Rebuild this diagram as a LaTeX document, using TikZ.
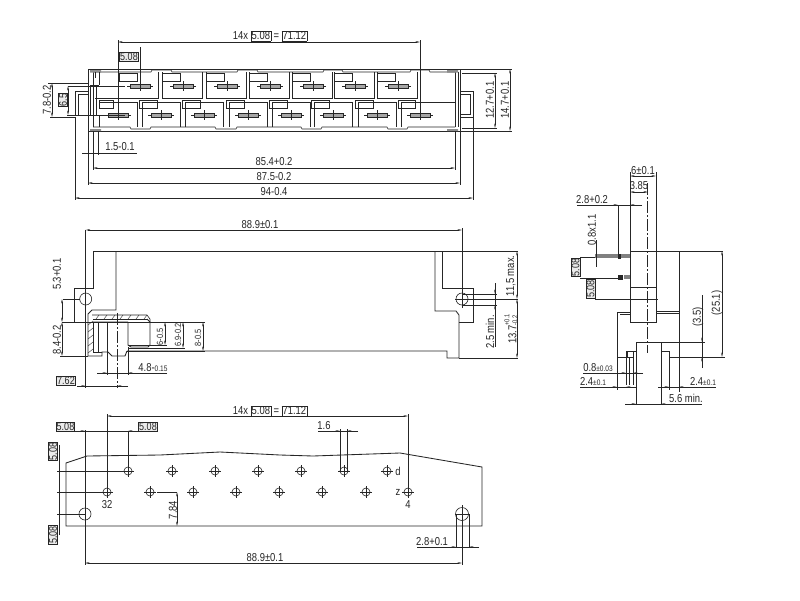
\documentclass[tikz,border=0pt]{standalone}
\usepackage{graphicx}
\usepackage{fontspec}
\setmainfont{Liberation Sans}
\usetikzlibrary{arrows.meta}
\definecolor{ink}{HTML}{262626}
\setlength{\fboxsep}{0.6pt}\setlength{\fboxrule}{0.5pt}
\newcommand\bx[1]{\fbox{#1}}
\newcommand\lab[3][]{\node[lbl,#1] at (#2) {\scalebox{.82}[1]{#3}};}
\newcommand\sml[3][]{\node[lbs,#1] at (#2) {\scalebox{.82}[1]{#3}};}
\newcommand\boxl[3][]{\node[boxed,#1] at (#2) {\scalebox{.82}[1]{#3}};}
\tikzset{
  lbl/.style={font=\fontsize{11.5}{12}\selectfont,text=ink,inner sep=0pt},
  lbs/.style={font=\fontsize{9}{10}\selectfont,text=ink,inner sep=0pt},
  boxed/.style={font=\fontsize{11}{11}\selectfont,text=ink,draw=ink,line width=.6pt,fill=black!8,inner sep=.5pt},
  body/.style={draw=ink,line width=.85pt},
  thin line/.style={draw=ink,line width=.6pt},
  dimline/.style={draw=ink,line width=.55pt,{Stealth[length=4.5pt,width=1.8pt]}-{Stealth[length=4.5pt,width=1.8pt]}},
  endarrow/.style={draw=ink,line width=.55pt,-{Stealth[length=4.5pt,width=1.8pt]}},
  center line/.style={draw=ink,line width=.55pt,dash pattern=on 12pt off 2pt on 2pt off 2pt},
}
\newcommand\contact[2]{%
  \filldraw[draw=ink,fill=black!35,line width=.35pt] (#1-10,#2-2) rectangle (#1+10,#2+2);
  \draw[draw=ink,line width=.45pt] (#1-13,#2)--(#1-10,#2) (#1+10,#2)--(#1+13,#2) (#1,#2-5)--(#1,#2+5);}
\newcommand\pinhole[2]{%
  \draw[thin line] (#1,#2) circle (4);
  \draw[thin line] (#1-6,#2)--(#1+6,#2) (#1,#2-6)--(#1,#2+6);}
\begin{document}
\begin{tikzpicture}[x=1pt,y=-1pt]
\useasboundingbox (0,0) rectangle (800,600);
\fill[white] (0,0) rectangle (800,600);

%% ---------- TOP VIEW ----------
\draw[body] (88,69) rectangle (460,131);
\draw[thin line] (88,69) -- (88,131);
\draw[thin line] (93,72)--(93,127) (455,72)--(455,127) (458,72)--(458,127);
\draw[thin line] (93,72)--(151,72)--(152,70)--(171,70)--(172,72)--(237,72)--(238,70)--(257,70)--(258,72)
   --(323,72)--(324,70)--(342,70)--(343,72)--(410,72)--(411,70)--(429,70)--(430,72)--(455,72);
\draw[thin line] (93,127)--(130,127)--(131,129)--(150,129)--(151,127)--(215,127)--(216,129)--(236,129)--(237,127)
   --(301,127)--(302,129)--(321,129)--(322,127)--(387,127)--(388,129)--(407,129)--(408,127)--(455,127);
\fill[black!45] (90,70) rectangle (101,72.5) (90,129) rectangle (101,131) (447,70) rectangle (458,72.5) (447,129) rectangle (458,131);
% ears
\draw[body] (88,91)--(75,91)--(75,115)--(88,115);
\draw[thin line] (88,94)--(78,94)--(78,115);
\draw[body] (460,91)--(473,91)--(473,117)--(460,117);
\draw[thin line] (460,94)--(470,94)--(470,114)--(460,114);
\draw[thin line] (90,85) rectangle (96,115);
\draw[thin line] (96,85)--(99,85) (96,115)--(99,115) (99,72)--(99,85) (99,115)--(99,127);
% upper cells
\draw[body] (95,72)--(95,78) (95,98)--(158,98)--(158,72);
\draw[thin line] (119,73) rectangle (137,81);
\foreach \c in {183,227,270,313,355,398}{
  \draw[body] (\c-21,72)--(\c-21,98)--(\c+19,98)--(\c+19,72);
  \draw[thin line] (\c-21,73) rectangle (\c-3,81);
}
\foreach \c in {140,183,227,270,313,355,398}{\contact{\c}{86}}
% lower cells
\draw[body] (99,102)--(137,102)--(137,127);
\draw[thin line] (99,100) rectangle (113,108);
\foreach \c in {161,204,248,291,333,377}{
  \draw[body] (\c-19,127)--(\c-19,102)--(\c+19,102)--(\c+19,127);
  \draw[thin line] (\c-22,100) rectangle (\c-4,108);
}
\draw[body] (401,127)--(401,102)--(456,102);
\draw[thin line] (398,100) rectangle (415,108);
\foreach \c in {118,161,204,248,291,333,377,420}{\contact{\c}{115}}
% dims
\draw[thin line] (118,40)--(118,115) (420,40)--(420,115);
\draw[dimline] (118,42)--(420,42);
\lab{270,36}{14x \bx{5.08} = \bx{71.12}}
\draw[thin line] (118,62)--(118,47) (140,47)--(140,86);
\boxl{129,57}{5.08}
\draw[thin line] (48,83)--(88,83) (68,86)--(125,86) (67,115)--(125,115) (50,117)--(75,117);
\draw[dimline] (52,83)--(52,117);
\draw[dimline] (68,86)--(68,115);
\lab[rotate=90]{47,100}{7.8-0.2}
\boxl[rotate=90]{63,100}{6.5}
\draw[thin line] (460,69)--(512,69) (460,131)--(512,131) (462,73)--(497,73) (462,128)--(497,128);
\draw[dimline] (495,73)--(495,128);
\draw[dimline] (510,69)--(510,131);
\lab[rotate=90]{490,100}{12.7+0.1}
\lab[rotate=90]{505,100}{14.7+0.1}
\draw[thin line] (88,131)--(88,185) (93,131)--(93,170) (98,131)--(98,155) (455,131)--(455,170) (460,131)--(460,185);
\draw[thin line] (75,117)--(75,200) (473,117)--(473,200);
\draw[thin line] (82,153)--(137,153);
\lab{120,147}{1.5-0.1}
\draw[dimline] (93,168)--(455,168);
\draw[dimline] (88,183)--(460,183);
\draw[dimline] (75,198)--(473,198);
\lab{274,162}{85.4+0.2}
\lab{274,177}{87.5-0.2}
\lab{274,192}{94-0.4}

%% ---------- FRONT VIEW ----------
\draw[body] (74,322)--(74,288)--(93,288)--(93,251)--(442,251)--(442,288)--(473,288)--(473,322)--(459,322);
\draw[body] (116,251)--(116,310)--(92,310)--(88,314)--(88,356);
\draw[body] (435,251)--(435,311)--(456,311)--(459,315)--(459,358)--(447,358)--(447,351)--(127,351);
\draw[thin line] (85.7,299) circle (6) (462,299) circle (6);
\draw[thin line] (85.7,230)--(85.7,388) (462,228)--(462,308);
\draw[thin line] (92,315)--(147,315)--(150,319)--(150,322);
\draw[body] (93,322)--(128,322) (128,322)--(128,345)--(131,347)--(148,347)--(150,345)--(150,322)--(147,319);
\draw[thin line] (93,319)--(147,319);
\foreach \a in {96,104,112,120,128,136,144}{\draw[draw=ink,line width=.4pt] (\a,319)--(\a+3,315);}
\foreach \a in {325,332,339,346,353}{\draw[draw=ink,line width=.4pt] (88,\a)--(93,\a-4);}
\draw[thin line] (93,322)--(93,352) (98,322)--(98,352) (93,352)--(102,352);
\draw[body] (88,356)--(102,356)--(102,352)--(108,352)--(112,356)--(125,356)--(127,351);
\draw[body] (128,345)--(150,345);
\draw[thin line] (107,322)--(107,375) (128,347)--(128,375);
\draw[center line] (117,313)--(117,388);
\draw[thin line] (62,322)--(205,322) (150,345)--(167,345) (128,348)--(185,348) (127,351)--(205,351) (60,356)--(88,356) (63,299)--(80,299);
\draw[thin line] (97,373)--(167,373);
\draw[endarrow] (97,373)--(107,373);
\draw[endarrow] (167,373)--(128,373);
\lab{153,368}{4.8-\fontsize{8}{8}\selectfont 0.15}
\draw[dimline] (165,322)--(165,345);
\draw[dimline] (183,322)--(183,348);
\draw[dimline] (203,322)--(203,351);
\sml[rotate=90]{160,337}{6-0.5}
\sml[rotate=90]{178,335}{6.9-0.2}
\sml[rotate=90]{198,338}{8-0.5}
\draw[dimline] (85.7,230)--(462,230);
\lab{260,225}{88.9±0.1}
\draw[dimline] (62,299)--(62,322);
\draw[dimline] (62,322)--(62,356);
\lab[rotate=90]{57,274}{5.3+0.1}
\lab[rotate=90]{57,340}{8.4-0.2}
\boxl{66,381}{7.62}
\draw[thin line] (77,386)--(128,386);
\draw[endarrow] (77,386)--(85.7,386);
\draw[endarrow] (128,386)--(117,386);
% right dims
\draw[thin line] (442,251)--(518,251) (459,358)--(518,358) (455,299)--(518,299) (462,294)--(497,294) (462,305)--(497,305);
\draw[dimline] (517,251)--(517,299);
\draw[dimline] (517,299)--(517,358);
\draw[thin line] (495,283)--(495,347);
\draw[endarrow] (495,283)--(495,294);
\draw[endarrow] (495,316)--(495,305);
\lab[rotate=90]{511,276}{11,5 max.}
\node[lbl,rotate=90] at (511,329) {\scalebox{.82}[1]{13.7\raisebox{-1pt}{\fontsize{7}{7}\selectfont\shortstack[l]{+0.1\\-0.2}}}};
\lab[rotate=90]{490,332}{2.5 min.}

%% ---------- SIDE VIEW ----------
\draw[body] (630,251) rectangle (656,322);
\draw[body] (656,251)--(679,251)--(679,357)--(669,357)--(669,351)--(661,351);
\draw[body] (630,312)--(617,312)--(617,357)--(626,357)--(626,351)--(636,351);
\draw[body] (656,311)--(679,311) (656,313)--(679,313) (620,314)--(630,314);
\draw[body] (636,405)--(636,342)--(661,342)--(661,405);
\draw[thin line] (630,287)--(656,287) (595,299)--(658,299);
\draw[center line] (647,183)--(647,353);
% pins
\fill[black!50] (595,254) rectangle (630,258);
\fill[ink] (618,253.5) rectangle (621,258.5);
\fill[black!50] (624,275) rectangle (630,279);
\fill[ink] (618,274.5) rectangle (623,279.5);
\draw[thin line] (580,257)--(595,257) (580,278)--(618,278) (595,278)--(595,299);
\draw[thin line] (618,205)--(618,256);
\draw[thin line] (630,172)--(630,251) (656,172)--(656,251);
\draw[thin line] (596,240)--(596,267);
\draw[thin line] (577,205)--(642,205);
\draw[endarrow] (604,205)--(618,205);
\draw[endarrow] (642,205)--(630,205);
\draw[dimline] (630,176)--(656,176);
\draw[dimline] (630,192)--(648,192);
\lab{643,171}{6±0.1}
\lab{639,186}{3.85}
\lab{592,200}{2.8+0.2}
\lab[rotate=90]{592,230}{0.8x1.1}
\boxl[rotate=90]{575.5,267.5}{5.08}
\boxl[rotate=90]{590.5,289}{5.08}
\draw[thin line] (661,342)--(705,342) (679,251)--(723,251) (679,357)--(725,357);
\draw[dimline] (722,251)--(722,357);
\lab[rotate=90]{717,303}{(25.1)}
\draw[thin line] (702,295)--(702,368);
\draw[endarrow] (702,325)--(702,342);
\draw[endarrow] (702,368)--(702,357);
\lab[rotate=90]{698,317}{(3.5)}
\draw[thin line] (627,351) rectangle (633,357);
\draw[thin line] (626,357)--(626,385) (629,357)--(629,385) (633,357)--(633,385);
\draw[thin line] (583,373)--(643,373);
\draw[endarrow] (617,373)--(626,373);
\draw[endarrow] (643,373)--(633,373);
\lab{598,368}{0.8\fontsize{8}{8}\selectfont ±0.03}
\draw[thin line] (617,357)--(617,390) (669,357)--(669,390) (679,357)--(679,392);
\draw[thin line] (580,387)--(637,387) (658,387)--(716,387);
\draw[endarrow] (604,387)--(617,387);
\draw[endarrow] (637,387)--(626,387);
\draw[endarrow] (658,387)--(669,387);
\draw[endarrow] (692,387)--(679,387);
\lab{593,382}{2.4\fontsize{8}{8}\selectfont ±0.1}
\lab{703,382}{2.4\fontsize{8}{8}\selectfont ±0.1}
\draw[thin line] (625,404)--(702,404);
\draw[endarrow] (625,404)--(636,404);
\draw[endarrow] (672,404)--(661,404);
\lab{686,398}{5.6 min.}

%% ---------- BOTTOM VIEW ----------
\draw[body] (66,526)--(66,463)--(87,456)--(160,455)--(220,452)--(280,455)--(313,456)--(400,453)--(482,467)--(482,526)--cycle;
\foreach \x in {128,172,215,258,301,344,387}{\pinhole{\x}{471}}
\foreach \x in {107,150,193,236,279,322,366,408}{\pinhole{\x}{492}}
\draw[thin line] (85,514) circle (6) (462,514) circle (6.5);
\draw[thin line] (455,514)--(470,514);
\draw[thin line] (107,414)--(107,492) (408,414)--(408,492) (128,431)--(128,471) (85,430)--(85,565) (462,505)--(462,565);
\draw[dimline] (107,416)--(408,416);
\lab{270,411}{14x \bx{5.08} = \bx{71.12}}
\draw[thin line] (74,431)--(139,431);
\draw[endarrow] (74,431)--(85,431);
\draw[endarrow] (139,431)--(128,431);
\boxl{65.5,426.5}{5.08}
\boxl{148,426.5}{5.08}
\draw[thin line] (57,471)--(128,471) (57,492)--(107,492) (57,514)--(85,514) (59,445)--(59,535);
\boxl[rotate=90]{53,451.5}{5.08}
\boxl[rotate=90]{53,535}{5.08}
\draw[dimline] (85,563)--(462,563);
\lab{265,558}{88.9±0.1}
\draw[thin line] (157,492)--(177,492);
\draw[dimline] (177,492)--(177,526);
\lab[rotate=90]{173,510}{7.84}
\lab{107,505}{32}
\lab{408,505}{4}
\lab{398,471}{d}
\lab{398,492}{z}
\draw[thin line] (340,429)--(340,471) (347,429)--(347,471) (318,431)--(358,431);
\draw[endarrow] (330,431)--(340,431);
\draw[endarrow] (358,431)--(347,431);
\lab{324,426}{1.6}
\draw[thin line] (456,514)--(456,548) (469,514)--(469,548) (417,547)--(479,547);
\draw[endarrow] (444,547)--(456,547);
\draw[endarrow] (479,547)--(469,547);
\lab{432,542}{2.8+0.1}
\end{tikzpicture}
\end{document}
